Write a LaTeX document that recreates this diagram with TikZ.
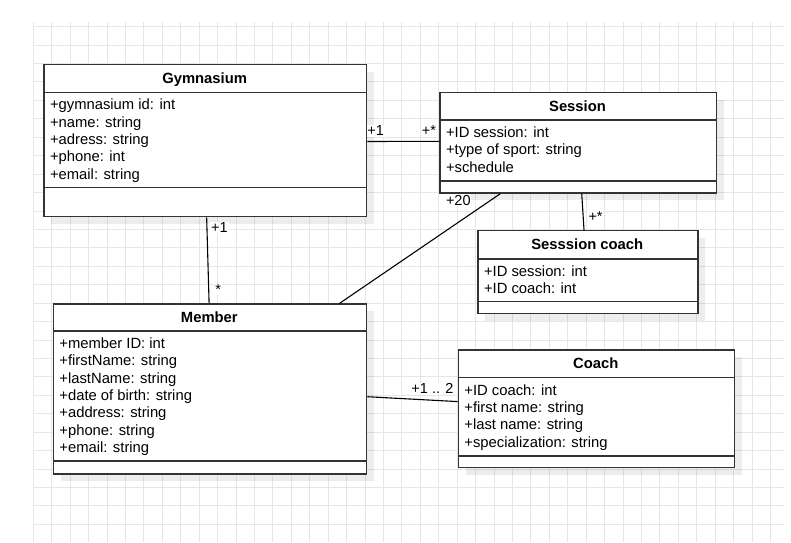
\documentclass[tikz,border=0pt]{standalone}
\usepackage{fontspec}
\setmainfont{Liberation Sans}
\usetikzlibrary{calc}
\definecolor{gridc}{HTML}{E6E6E6}
\definecolor{boxc}{HTML}{333333}
\tikzset{
  gridline/.style={draw=gridc, line width=1pt},
  classshadow/.style={fill=black, fill opacity=0.07, draw=none},
  classframe/.style={draw=boxc, line width=1.4pt, fill=white, inner sep=0pt, anchor=north west},
  classsep/.style={draw=boxc, line width=1.4pt},
  classtitle/.style={font={\fontsize{14.8}{17}\selectfont\bfseries}, inner sep=0pt, anchor=base},
  attrtext/.style={font={\fontsize{14.8}{17.3}\selectfont}, align=left, inner sep=0pt, anchor=north west},
  conn/.style={draw=black, line width=1.1pt},
  mult/.style={font={\fontsize{14.5}{16}\selectfont}, fill=white, inner sep=0.8pt},
}
% #1 name, #2 left, #3 top, #4 right, #5 bottom, #6 header sep, #7 attribute sep, #8 title, #9 attributes
\newcommand\umlclassbox[9]{%
  \fill[classshadow] (#2+8,#3+8) rectangle (#4+8,#5+8);
  \node[classframe, minimum width={#4-#2}, minimum height={#5-#3}] (#1) at (#2,#3) {};
  \draw[classsep] (#2,#6) -- (#4,#6);
  \draw[classsep] (#2,#7) -- (#4,#7);
  \node[classtitle] (#1-title) at ({(#2+#4)/2},{(#3+#6)/2+5.3}) {#8};
  \node[attrtext] (#1-attrs) at (#2+6.5,#6+6.6) {#9};
}
\begin{document}
\begin{tikzpicture}[x=1pt,y=-1pt]
\useasboundingbox (0,0) rectangle (791,542);
% background grid
\foreach \i in {0,...,40} \draw[gridline] ({33.3+\i*18.43},22) -- ({33.3+\i*18.43},542);
\foreach \j in {0,...,27} \draw[gridline] (33,{26.7+\j*18.43}) -- (784,{26.7+\j*18.43});

% classes
\umlclassbox{gym}{43.3}{64}{366}{216}{92.3}{187.7}{Gymnasium}%
  {+gymnasium id: int\\+name: string\\+adress: string\\+phone: int\\+email: string}
\umlclassbox{session}{439.3}{91.7}{715.7}{192.3}{120}{181}{Session}%
  {+ID session: int\\+type of sport: string\\+schedule}
\umlclassbox{sesscoach}{477.3}{230}{697.3}{312.7}{259}{301.7}{Sesssion coach}%
  {+ID session: int\\+ID coach: int}
\umlclassbox{member}{52.7}{303.3}{366}{473.3}{331}{461}{Member}%
  {+member ID: int\\+firstName: string\\+lastName: string\\+date of birth: string\\+address: string\\+phone: string\\+email: string}
\umlclassbox{coach}{457.7}{349.3}{734}{467}{377.7}{456}{Coach}%
  {+ID coach: int\\+first name: string\\+last name: string\\+specialization: string}

% connectors
\draw[conn] ($(gym.south west)!0.504!(gym.south east)$) -- ($(member.north west)!0.497!(member.north east)$);
\draw[conn] ($(gym.north east)!0.505!(gym.south east)$) -- ($(session.north west)!0.487!(session.south west)$);
\draw[conn] ($(session.south west)!0.2196!(session.south east)$) -- ($(member.north west)!0.9116!(member.north east)$);
\draw[conn] ($(session.south west)!0.5127!(session.south east)$) -- ($(sesscoach.north west)!0.482!(sesscoach.north east)$);
\draw[conn] ($(member.north east)!0.545!(member.south east)$) -- ($(coach.north west)!0.439!(coach.south west)$);

% multiplicities
\node[mult, anchor=base west] (m-gm-1) at (210.2,232.5) {+1};
\node[mult, anchor=base] (m-gm-star) at (218.3,294.4) {*};
\node[mult, anchor=base west] (m-gs-1) at (366.4,135.9) {+1};
\node[mult, anchor=base east] (m-gs-star) at (437,135.9) {+*};
\node[mult, anchor=base west] (m-sm-20) at (445,205.2) {+20};
\node[mult, anchor=base west] (m-sc-star) at (587.5,221.6) {+*};
\node[mult, anchor=base east] (m-mc-12) at (454.5,393.5) {+1 .. 2};
\end{tikzpicture}
\end{document}
